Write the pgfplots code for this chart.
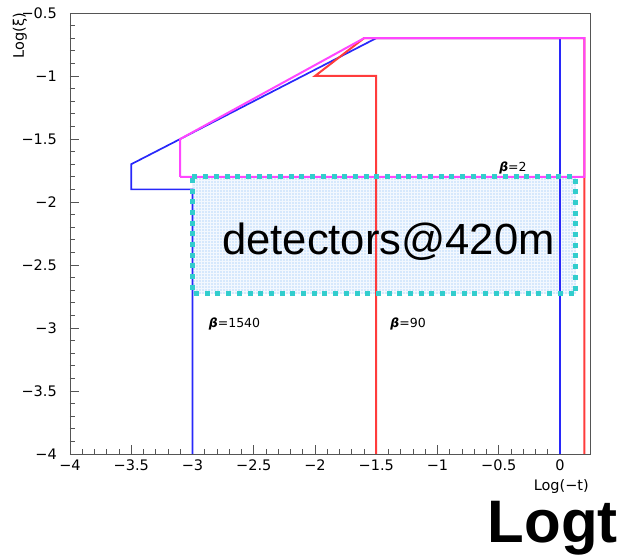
\documentclass[border=0pt]{standalone}
\usepackage{fontspec}
\setmainfont{DejaVu Sans}
\newfontfamily\arialfont{Liberation Sans}
\usepackage{pgfplots}
\pgfplotsset{compat=1.18}
\usetikzlibrary{patterns}

\definecolor{rootblue}{RGB}{40,40,250}
\definecolor{rootred}{RGB}{255,60,60}
\definecolor{rootmag}{RGB}{255,70,255}
\definecolor{detcyan}{RGB}{50,205,205}
\definecolor{detfill}{RGB}{214,232,252}
\definecolor{framegray}{RGB}{85,85,85}

\newcommand{\ticksize}{\fontsize{14.5}{17}\selectfont}

\begin{document}
\begin{tikzpicture}
\begin{axis}[
  name=ax,
  at={(0pt,0pt)}, anchor=south west,
  scale only axis,
  width=520.6pt, height=441pt,
  xmin=-4, xmax=0.25,
  ymin=-4, ymax=-0.5,
  xtick={-4,-3.5,-3,-2.5,-2,-1.5,-1,-0.5,0},
  xticklabels={−4,−3.5,−3,−2.5,−2,−1.5,−1,−0.5,0},
  ytick={-4,-3.5,-3,-2.5,-2,-1.5,-1,-0.5},
  yticklabels={−4,−3.5,−3,−2.5,−2,−1.5,−1,−0.5},
  minor tick num=4,
  tick pos=left,
  tick align=inside,
  major tick length=9pt,
  minor tick length=4.5pt,
  axis line style={framegray, line width=0.9pt},
  every tick/.style={framegray, line width=0.8pt},
  x tick label style={font=\ticksize, inner sep=0pt, yshift=-6pt},
  y tick label style={font=\ticksize, inner sep=0pt, xshift=-13pt},
  clip=false,
]

% detector acceptance region (fill with a fine mesh)
\addplot [fill=detfill, draw=none] coordinates
  {(-3,-1.8) (0.13,-1.8) (0.13,-2.73) (-3,-2.73)} -- cycle;
\addplot [pattern=grid, pattern color=white!70!detfill, draw=none] coordinates
  {(-3,-1.8) (0.13,-1.8) (0.13,-2.73) (-3,-2.73)} -- cycle;

% beta* = 1540 optics
\addplot [rootblue, line width=1.7pt, sharp plot] coordinates
  {(-3,-4) (-3,-1.9) (-3.5,-1.9) (-3.5,-1.7) (-1.5,-0.7) (0,-0.7) (0,-4)};

% beta* = 90 optics
\addplot [rootred, line width=2pt, sharp plot] coordinates
  {(-1.5,-4) (-1.5,-1) (-2,-1) (-1.6,-0.7) (0.2,-0.7) (0.2,-4)};

% beta* = 2 optics
\addplot [rootmag, line width=2pt, sharp plot] coordinates
  {(-3.1,-1.8) (-3.1,-1.5) (-1.6,-0.7) (0.2,-0.7) (0.2,-1.8) (-3.1,-1.8)};

% detector acceptance region (border)
\addplot [detcyan, line width=5pt, dash pattern=on 5pt off 5.7pt, line cap=butt] coordinates
  {(-3,-1.8) (0.13,-1.8) (0.13,-2.73) (-3,-2.73) (-3,-1.8)};

\node [font={\arialfont\fontsize{43.6}{48}\selectfont}, anchor=base, inner sep=0pt]
  at (axis cs:-1.40,-2.413) {detectors@420m};

\node [font=\fontsize{12.5}{14}\selectfont, anchor=base, inner sep=0pt]
  at (axis cs:-0.384,-1.76) {\textbf{\textit{β}}=2};
\node [font=\fontsize{12.5}{14}\selectfont, anchor=base, inner sep=0pt]
  at (axis cs:-2.657,-3.0) {\textbf{\textit{β}}=1540};
\node [font=\fontsize{12.5}{14}\selectfont, anchor=base, inner sep=0pt]
  at (axis cs:-1.24,-3.0) {\textbf{\textit{β}}=90};
\end{axis}

% axis titles
\node [font=\ticksize, anchor=north east, inner sep=0pt] at (519pt,-25pt) {Log(−t)};
\node [font=\ticksize, rotate=90, anchor=south east, inner sep=0pt] at (-43pt,441pt) {Log(ξ)};

% large caption at bottom right
\node [font={\arialfont\bfseries\fontsize{60}{64}\selectfont}, anchor=base east, inner sep=0pt]
  at (548pt,-88pt) {Logt};

% page extent
\path (-70pt,-100pt) rectangle (553pt,454pt);
\end{tikzpicture}
\end{document}
